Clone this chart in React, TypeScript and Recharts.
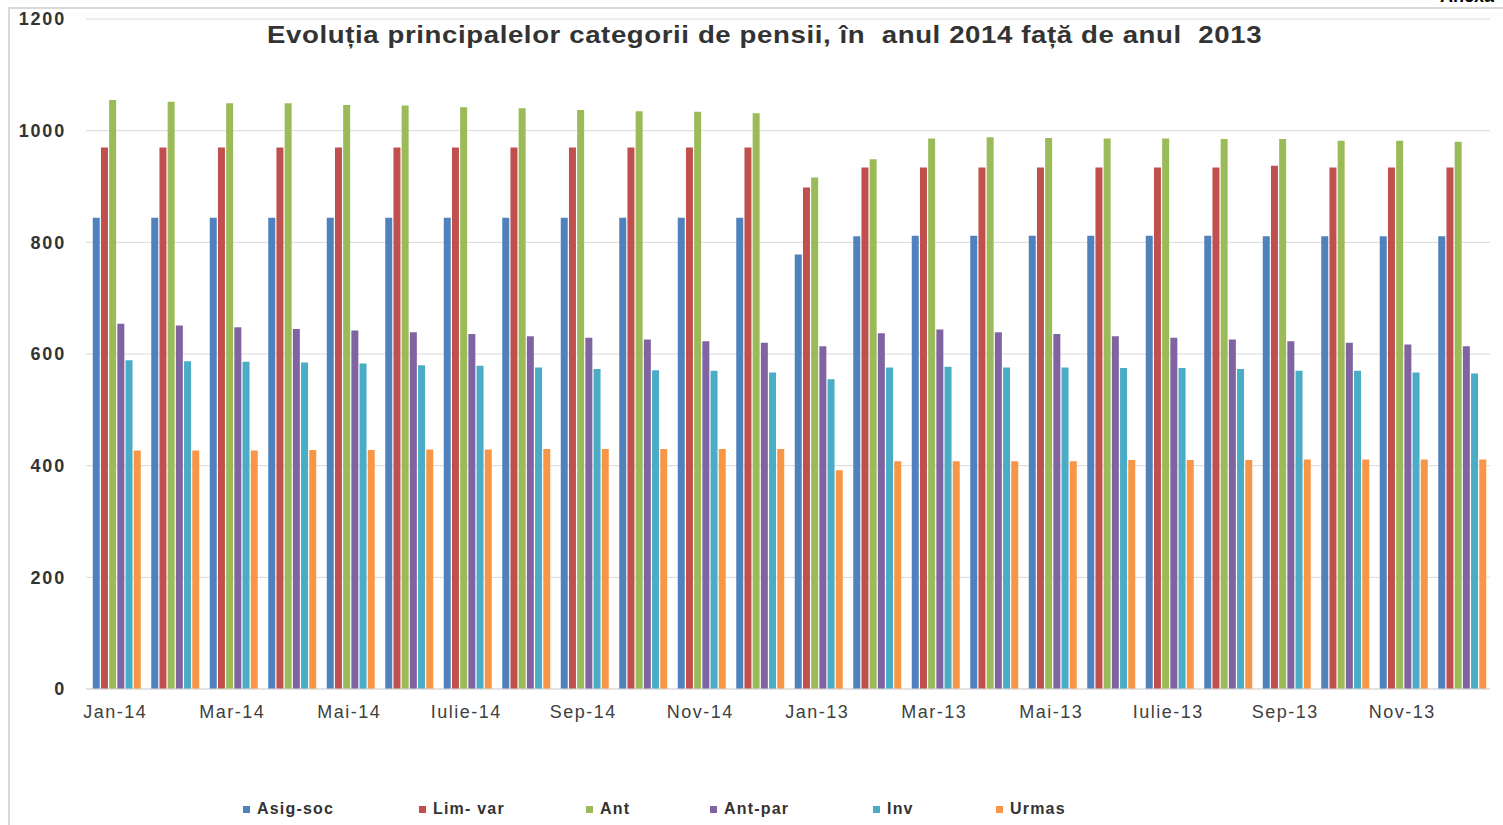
import { BarChart, Bar, XAxis, YAxis, CartesianGrid, Legend } from "recharts";

const months = [
  "Jan-14", "Feb-14", "Mar-14", "Apr-14", "Mai-14", "Iun-14", "Iulie-14", "Aug-14", "Sep-14", "Oct-14", "Nov-14", "Dec-14",
  "Jan-13", "Feb-13", "Mar-13", "Apr-13", "Mai-13", "Iun-13", "Iulie-13", "Aug-13", "Sep-13", "Oct-13", "Nov-13", "Dec-13",
];

const asigSoc = [844, 844, 844, 844, 844, 844, 844, 844, 844, 844, 844, 844, 778, 811, 812, 812, 812, 812, 812, 812, 811, 811, 811, 811];
const limVar = [970, 970, 970, 970, 970, 970, 970, 970, 970, 970, 970, 970, 898, 934, 934, 934, 934, 934, 934, 934, 937, 934, 934, 934];
const ant = [1055, 1052, 1049, 1049, 1046, 1045, 1042, 1040, 1037, 1035, 1034, 1031, 916, 949, 986, 988, 987, 986, 986, 985, 985, 982, 982, 980];
const antPar = [654, 651, 648, 645, 642, 639, 636, 632, 629, 626, 623, 620, 614, 637, 644, 639, 636, 632, 629, 626, 623, 620, 617, 614];
const inv = [589, 587, 586, 585, 583, 580, 579, 576, 573, 571, 570, 567, 555, 576, 577, 576, 576, 575, 575, 573, 570, 570, 567, 565];
const urmas = [427, 427, 427, 428, 428, 429, 429, 430, 430, 430, 430, 430, 392, 408, 408, 408, 408, 410, 410, 410, 411, 411, 411, 411];

const yTicks = [0, 200, 400, 600, 800, 1000, 1200];

const series = [
  { key: "asigSoc", name: "Asig-soc", values: asigSoc, color: "#4f81bd" },
  { key: "limVar", name: "Lim- var", values: limVar, color: "#c0504d" },
  { key: "ant", name: "Ant", values: ant, color: "#9bbb59" },
  { key: "antPar", name: "Ant-par", values: antPar, color: "#8064a2" },
  { key: "inv", name: "Inv", values: inv, color: "#4bacc6" },
  { key: "urmas", name: "Urmas", values: urmas, color: "#f79646" },
];

// legend columns are not evenly spaced in the original
const legendX = [243, 419, 586, 710, 873, 996];

const data = months.map((m, i) => {
  const row: Record<string, string | number> = { month: m };
  series.forEach((s) => (row[s.key] = s.values[i]));
  return row;
});

const font = "'Liberation Sans', Arial, sans-serif";

const renderLegend = () => (
  <div style={{ position: "relative", width: 1503, height: 26 }}>
    {series.map((s, i) => (
      <div
        key={s.key}
        style={{
          position: "absolute",
          left: legendX[i],
          top: 1,
          display: "flex",
          alignItems: "center",
          fontFamily: font,
          fontWeight: "bold",
          fontSize: 16,
          letterSpacing: 1.2,
          color: "#333",
        }}
      >
        <span style={{ width: 7, height: 7, background: s.color, marginRight: 7, display: "inline-block" }} />
        {s.name}
      </div>
    ))}
  </div>
);

export default function App() {
  return (
    <div style={{ position: "absolute", left: 0, top: 0, width: 1503, height: 825, overflow: "hidden", background: "#fff" }}>
      <div style={{ position: "absolute", left: 8, top: 7, right: 0, bottom: -2, borderLeft: "2px solid #d9d9d9", borderTop: "2px solid #d9d9d9" }} />
      <div
        style={{
          position: "absolute",
          left: 1440,
          top: -13,
          fontFamily: font,
          fontWeight: "bold",
          fontSize: 18,
          lineHeight: "18px",
          color: "#000",
          whiteSpace: "nowrap",
        }}
      >
        Anexa
      </div>
      <div style={{ position: "absolute", left: 0, top: 0 }}>
        <BarChart
          width={1503}
          height={825}
          data={data}
          margin={{ top: 19, right: 13, left: 6, bottom: 80 }}
          barCategoryGap={6.75}
          barGap={1.2}
        >
          <CartesianGrid vertical={false} stroke="#d9d9d9" />
          <XAxis
            dataKey="month"
            interval={1}
            height={30}
            tickSize={0}
            tickMargin={16}
            axisLine={{ stroke: "#d9d9d9" }}
            tick={{ fill: "#404040", fontSize: 18, fontFamily: font, letterSpacing: 1.5 }}
          />
          <YAxis
            width={80}
            domain={[0, 1200]}
            ticks={yTicks}
            tickSize={0}
            tickMargin={20}
            axisLine={false}
            tick={{ fill: "#333", fontSize: 18, fontWeight: "bold", fontFamily: font, letterSpacing: 1.8 }}
          />
          <Legend verticalAlign="bottom" content={renderLegend} wrapperStyle={{ left: 0, bottom: 0, width: 1503, height: 26 }} />
          {series.map((s) => (
            <Bar key={s.key} dataKey={s.key} name={s.name} fill={s.color} isAnimationActive={false} />
          ))}
        </BarChart>
      </div>
      <div
        style={{
          position: "absolute",
          left: 0,
          width: 1529,
          top: 24,
          textAlign: "center",
          fontFamily: font,
          fontWeight: "bold",
          fontSize: 23,
          lineHeight: "22px",
          letterSpacing: 0.5,
          color: "#333",
          whiteSpace: "pre",
          transform: "scaleX(1.2)",
          transformOrigin: "764px 0",
        }}
      >
        {"Evoluția principalelor categorii de pensii, în  anul 2014 față de anul  2013"}
      </div>
    </div>
  );
}
